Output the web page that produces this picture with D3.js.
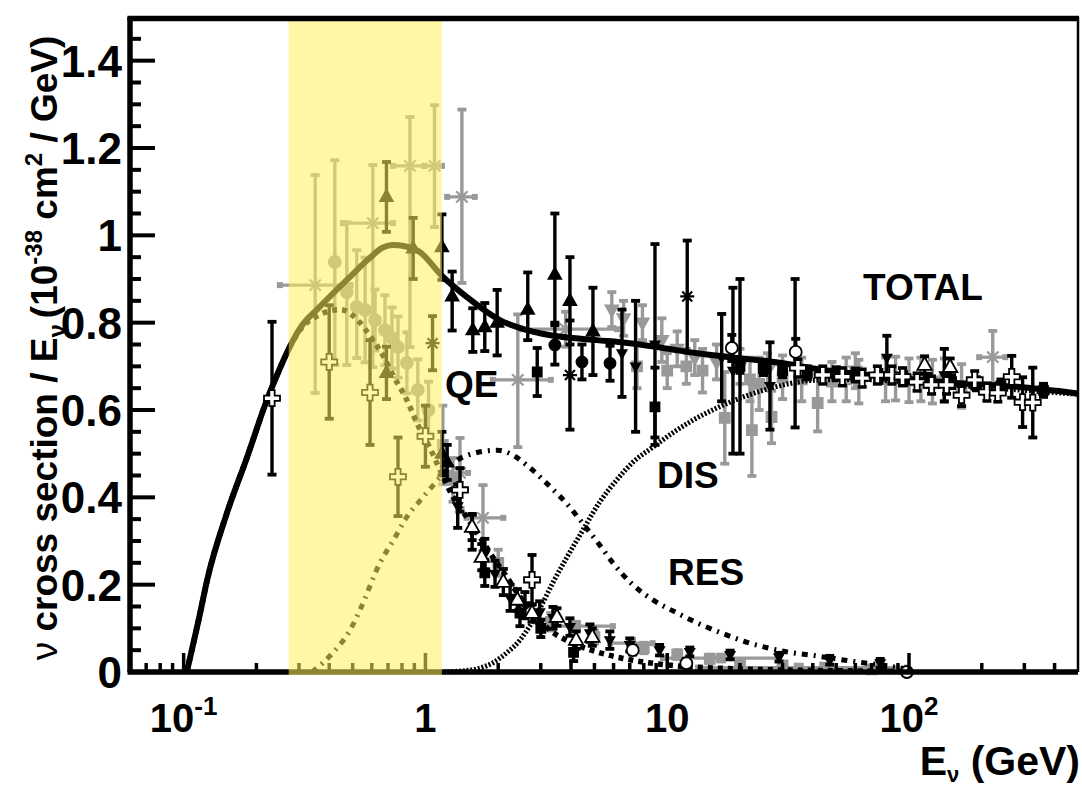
<!DOCTYPE html>
<html><head><meta charset="utf-8">
<script src="https://cdnjs.cloudflare.com/ajax/libs/d3/7.8.5/d3.min.js"></script>
<style>
body{margin:0;background:#fff;}
svg{display:block;}
text{font-family:"Liberation Sans",Arial,Helvetica,sans-serif;font-weight:bold;fill:#000;white-space:pre;}
</style>
</head><body>
<svg id="c" width="1082" height="788"></svg>
<script>
// ---------------- axis / tick definitions ----------------
const xMajorTicks = [0.1, 1, 10, 100];
const xMinorTicks = [0.07,0.08,0.09,0.2,0.3,0.4,0.5,0.6,0.7,0.8,0.9,2,3,4,5,6,7,8,9,20,30,40,50,60,70,80,90,200,300,400];
const xTickLabels = [["10","-1"],["1",""],["10",""],["10","2"]];
const yMajorTicks = [0,0.2,0.4,0.6,0.8,1.0,1.2,1.4];
const yMinorTicks = [0.05,0.1,0.15,0.25,0.3,0.35,0.45,0.5,0.55,0.65,0.7,0.75,0.85,0.9,0.95,1.05,1.1,1.15,1.25,1.3,1.35,1.45];
const yTickLabels = ["0","0.2","0.4","0.6","0.8","1","1.2","1.4"];
const bandRange = [0.272, 1.17];

// ---------------- model curves [E (GeV), sigma/E] ----------------
const totalCurve = [[0.103,0],[0.117,0.135],[0.125,0.21],[0.151,0.364],[0.183,0.492],[0.221,0.623],[0.25,0.695],[0.275,0.745],[0.31,0.795],[0.356,0.83],[0.42,0.87],[0.488,0.905],[0.58,0.945],[0.667,0.972],[0.734,0.978],[0.922,0.966],[1.18,0.905],[1.48,0.859],[2.03,0.806],[2.63,0.783],[3.71,0.767],[5.12,0.760],[7.01,0.753],[9.6,0.742],[13.3,0.730],[18.2,0.721],[29.2,0.708],[41.6,0.694],[78,0.677],[148,0.663],[279,0.653],[500,0.638]];
const qeCurve = [[0.103,0],[0.117,0.135],[0.125,0.21],[0.151,0.364],[0.183,0.492],[0.221,0.623],[0.25,0.695],[0.275,0.745],[0.31,0.79],[0.356,0.815],[0.444,0.83],[0.536,0.80],[0.589,0.77],[0.667,0.725],[0.734,0.68],[0.838,0.623],[0.922,0.57],[1.04,0.515],[1.148,0.463],[1.30,0.401],[1.48,0.355],[1.68,0.309],[1.90,0.263],[2.17,0.218],[2.46,0.172],[2.79,0.135],[3.27,0.096],[4.07,0.066],[5.27,0.044],[7.2,0.027],[10,0.016],[20,0.007],[50,0.003],[100,0.001]];
const resCurve = [[0.34,0],[0.414,0.044],[0.488,0.096],[0.536,0.142],[0.649,0.25],[0.734,0.30],[0.838,0.355],[0.976,0.40],[1.148,0.445],[1.3,0.478],[1.57,0.500],[1.98,0.508],[2.24,0.500],[2.7,0.468],[3.27,0.425],[3.85,0.385],[4.48,0.34],[5.27,0.29],[5.96,0.25],[7.2,0.20],[8.73,0.165],[11,0.135],[13.6,0.11],[17,0.088],[21.4,0.068],[26.6,0.054],[32,0.045],[40,0.038],[50,0.030],[63,0.022],[81,0.014],[100,0.006]];
const disCurve = [[1.15,0],[1.39,0.002],[1.68,0.009],[1.90,0.021],[2.17,0.044],[2.46,0.073],[2.70,0.105],[2.97,0.145],[3.37,0.205],[3.85,0.263],[4.48,0.325],[5.27,0.39],[6.19,0.44],[7.2,0.48],[8.73,0.515],[10.5,0.547],[12.8,0.577],[16.1,0.605],[21.4,0.633],[29,0.655],[40,0.668],[60,0.670],[100,0.664],[200,0.652],[500,0.636]];

// ---------------- data points [E, y, err] or [E, y, errLo, errHi, Elo, Ehi] ----------------
const blackTri = [[0.69,1.088,0.08],[0.69,0.685,0.06],[0.89,0.97,0.07],[1.17,0.973,0.075],[1.29,0.86,0.078,0.057],[1.57,0.783,0.05],[1.76,0.79,0.055],[1.98,0.80,0.075],[2.65,0.83,0.07,0.085],[3.43,0.91,0.11,0.14],[3.96,0.85,0.1],[4.93,0.78,0.1],[1.17,0.50,0.05],[1.23,0.48,0.04]];
const blackDown = [[6.5,0.73,0.1],[7.4,0.70,0.15],[8.9,0.75,0.23],[16.8,0.72,0.1],[18.7,0.69,0.19],[20,0.70,0.2],[26.6,0.655,0.1],[33.8,0.73,0.17],[81,0.72,0.05],[140,0.68,0.06],[1.36,0.38,0.05],[1.56,0.32,0.04],[1.76,0.27,0.035],[1.94,0.225,0.03],[2.24,0.17,0.03],[2.58,0.153,0.03],[2.97,0.137,0.025],[3.37,0.124,0.025],[3.96,0.103,0.02],[4.79,0.089,0.02],[5.79,0.073,0.02],[7.0,0.062,0.015],[9.3,0.05,0.012],[12.4,0.046,0.01],[18.2,0.039,0.01],[29,0.034,0.01],[47,0.027,0.01],[76,0.02,0.01]];
const blackSq = [[2.9,0.687,0.055],[8.9,0.607,0.07,0.09],[1.76,0.227,0.03],[2.46,0.135,0.03],[3.0,0.10,0.02],[4.1,0.045,0.02],[20,0.70,0.015],[25,0.695,0.015],[30,0.69,0.015],[38,0.685,0.015],[50,0.683,0.015],[60,0.68,0.015],[75,0.677,0.015],[95,0.672,0.015],[120,0.668,0.015],[150,0.665,0.015],[190,0.66,0.015],[240,0.655,0.015],[360,0.645,0.015]];
const blackCirc = [[3.43,0.749,0.045],[4.44,0.71,0.04],[5.8,0.707,0.04]];
const blackStar = [[1.07,0.753,0.062],[3.96,0.68,0.125],[12.1,0.86,0.128]];
const grayStarH = [[0.35,0.886,0.247,0.252,0.25,0.49],[0.606,1.028,0.33,0.133,0.456,0.734],[0.863,1.159,0.415,0.112,0.734,0.99],[1.09,1.159,0.14,0.139,0.99,1.17],[1.415,1.088,0.197,0.2,1.23,1.6],[2.41,0.669,0.154,0.15,1.9,3.3],[3.8,0.785,0.04,0.04,2.45,6.2],[1.39,0.456,0.08,0.08,1.25,1.5],[1.73,0.353,0.075,0.075,1.48,2.1],[222,0.721,0.06,0.06,195,250]];
const grayCirc = [[0.422,0.939,0.236,0.233],[0.473,0.87,0.167,0.16],[0.52,0.836,0.117,0.13],[0.563,0.829,0.12],[0.619,0.806,0.07],[0.68,0.783,0.08],[0.727,0.765,0.07],[0.77,0.744,0.07],[0.838,0.708,0.07],[0.93,0.646,0.07],[1.03,0.60,0.065]];
const graySq = [[17.3,0.582,0.105],[22.4,0.554,0.105],[27,0.584,0.06],[41.9,0.616,0.065],[22,0.67,0.05],[24,0.66,0.06],[30,0.675,0.05],[36,0.67,0.05],[48,0.665,0.045],[55,0.67,0.05],[62,0.665,0.05],[80,0.67,0.05],[88,0.672,0.05],[100,0.668,0.05],[112,0.67,0.05],[125,0.665,0.05],[140,0.668,0.05],[165,0.655,0.05],[7.5,0.70,0.05],[10,0.69,0.04],[12,0.70,0.04],[14,0.69,0.05],[1.18,0.52,0.09],[1.3,0.44,0.05],[2.0,0.25,0.03],[3.3,0.115,0.02],[5,0.08,0.015],[8,0.055,0.012],[11,0.04,0.01],[15,0.03,0.01],[20,0.02,0.008],[30,0.015,0.008],[45,0.01,0.006],[70,0.006,0.005]];
const grayDown = [[5.9,0.83,0.04],[6.6,0.81,0.04],[7.9,0.80,0.04],[9.5,0.76,0.05],[11,0.74,0.04],[13,0.72,0.04],[16,0.71,0.04],[20,0.70,0.04],[26,0.69,0.04],[60,0.69,0.04]];
const grayFallH = [[4.2,0.105,0.01,0.01,2.97,5.96],[7.1,0.066,0.01,0.01,5.8,8.7],[16.7,0.032,0.008,0.008,9.6,29],[35,0.01,0.006,0.006,13.4,98]];
const openCross = [[0.232,0.627,0.175],[0.40,0.71,0.13],[0.59,0.64,0.12],[0.77,0.447,0.09],[1.0,0.54,0.07],[1.39,0.417,0.05],[2.76,0.211,0.057],[34.7,0.696,0.02],[44,0.68,0.02],[53,0.676,0.02],[64,0.673,0.02],[74,0.68,0.02],[85,0.68,0.02],[94,0.676,0.02],[108,0.664,0.02],[124,0.657,0.02],[143,0.657,0.02],[165,0.634,0.025],[187,0.669,0.02],[210,0.641,0.02],[233,0.639,0.02],[266,0.676,0.048],[295,0.618,0.057],[325,0.617,0.08]];
const openTri = [[1.56,0.332,0.03],[1.71,0.263,0.03],[2.1,0.206,0.03],[2.4,0.165,0.025],[2.76,0.135,0.02],[3.5,0.126,0.02],[4.2,0.073,0.02],[4.9,0.08,0.02],[116,0.703,0.02],[148,0.698,0.02]];
const openCirc = [[18.5,0.742,0.03],[34,0.733,0.03],[7.2,0.05,0.01],[12,0.02,0.01],[98,0.0,0.005]];

// ---------------- setup ----------------
const svg = d3.select('#c');
const X0 = 130, X1 = 1078, YB = 672, YT = 17;
const x = d3.scaleLog().domain([0.06, 500]).range([X0, X1]);
const y = d3.scaleLinear().domain([0, 1.5]).range([YB, YT]);

const gGray = svg.append('g');
const gCurves = svg.append('g');
const gBlack = svg.append('g');
const gAxes = svg.append('g');
const gBand = svg.append('g');
const gFrame = svg.append('g');
const gText = svg.append('g');

function errBar(g, d, color) {
  const E = d[0], v = d[1];
  const lo = d[2], hi = d.length > 3 ? d[3] : d[2];
  const cx = x(E);
  const yt = y(v + hi), yb = y(Math.max(0, v - lo));
  g.append('line').attr('x1', cx).attr('x2', cx).attr('y1', yt).attr('y2', yb)
    .attr('stroke', color).attr('stroke-width', 3.4);
  [yt, yb].forEach(yy => g.append('line').attr('x1', cx - 4.5).attr('x2', cx + 4.5)
    .attr('y1', yy).attr('y2', yy).attr('stroke', color).attr('stroke-width', 3.8));
  if (d.length > 4) {
    const xl = x(d[4]), xr = x(d[5]), cy = y(v);
    g.append('line').attr('x1', xl).attr('x2', xr).attr('y1', cy).attr('y2', cy)
      .attr('stroke', color).attr('stroke-width', 3.2);
    [xl, xr].forEach(xx => g.append('rect').attr('x', xx - 3).attr('y', cy - 3)
      .attr('width', 6).attr('height', 6).attr('fill', color));
  }
}

function marker(g, type, cx, cy, fill, stroke, s) {
  let p;
  if (type === 'triUp') {
    p = `M${cx},${cy - s}L${cx + s * 0.9},${cy + s * 0.6}L${cx - s * 0.9},${cy + s * 0.6}Z`;
  } else if (type === 'triDown') {
    p = `M${cx},${cy + s}L${cx + s * 0.9},${cy - s * 0.6}L${cx - s * 0.9},${cy - s * 0.6}Z`;
  } else if (type === 'square') {
    p = `M${cx - s},${cy - s}h${2 * s}v${2 * s}h${-2 * s}Z`;
  } else if (type === 'cross') {
    const a = s * 0.33;
    p = `M${cx - a},${cy - s}h${2 * a}v${s - a}h${s - a}v${2 * a}h${-(s - a)}v${s - a}h${-2 * a}v${-(s - a)}h${-(s - a)}v${-2 * a}h${s - a}Z`;
  }
  if (type === 'circle') {
    g.append('circle').attr('cx', cx).attr('cy', cy).attr('r', s)
      .attr('fill', fill).attr('stroke', stroke).attr('stroke-width', 1.8);
  } else if (type === 'star') {
    const k = s * 0.71;
    const pp = `M${cx - s},${cy}h${2 * s}M${cx},${cy - s}v${2 * s}M${cx - k},${cy - k}l${2 * k},${2 * k}M${cx - k},${cy + k}l${2 * k},${-2 * k}`;
    g.append('path').attr('d', pp).attr('stroke', stroke).attr('stroke-width', 2.2).attr('fill', 'none');
  } else {
    g.append('path').attr('d', p).attr('fill', fill).attr('stroke', stroke).attr('stroke-width', 1.8);
  }
}

function series(g, data, type, color, fill, s) {
  data.forEach(d => errBar(g, d, color));
  data.forEach(d => marker(g, type, x(d[0]), y(d[1]), fill, color, s));
}

// gray data (under curves)
const GRAY = '#999999';
series(gGray, grayCirc, 'circle', GRAY, GRAY, 6);
series(gGray, grayStarH, 'star', GRAY, 'none', 8);
series(gGray, graySq, 'square', GRAY, GRAY, 5);
series(gGray, grayDown, 'triDown', GRAY, GRAY, 7);
series(gGray, grayFallH, 'square', GRAY, GRAY, 4);

// curves
function curve(data, dash, width) {
  const line = d3.line().x(d => x(d[0])).y(d => y(d[1])).curve(d3.curveMonotoneX);
  gCurves.append('path').attr('d', line(data)).attr('fill', 'none').attr('stroke', '#000')
    .attr('stroke-width', width).attr('stroke-dasharray', dash);
}
curve(disCurve, '2,1.8', 5);
curve(resCurve, '6,6,2,6', 5);
curve(qeCurve, '5,5', 5.5);
curve(totalCurve, null, 6);

// black / open data
series(gBlack, blackDown, 'triDown', '#000', '#000', 5);
series(gBlack, blackSq, 'square', '#000', '#000', 4.5);
series(gBlack, blackTri, 'triUp', '#000', '#000', 7);
series(gBlack, blackCirc, 'circle', '#000', '#000', 5.5);
series(gBlack, blackStar, 'star', '#000', 'none', 7);
series(gBlack, openTri, 'triUp', '#000', '#fff', 8);
series(gBlack, openCirc, 'circle', '#000', '#fff', 6);
series(gBlack, openCross, 'cross', '#000', '#fff', 8);

// ---------------- axes ----------------
yMajorTicks.forEach(v => gAxes.append('line').attr('x1', X0).attr('x2', X0 + 25)
  .attr('y1', y(v)).attr('y2', y(v)).attr('stroke', '#000').attr('stroke-width', 4));
yMinorTicks.forEach(v => gAxes.append('line').attr('x1', X0).attr('x2', X0 + 11)
  .attr('y1', y(v)).attr('y2', y(v)).attr('stroke', '#000').attr('stroke-width', 4));
xMajorTicks.forEach(v => gAxes.append('line').attr('x1', x(v)).attr('x2', x(v))
  .attr('y1', YB).attr('y2', YB - 19).attr('stroke', '#000').attr('stroke-width', 3.5));
xMinorTicks.forEach(v => gAxes.append('line').attr('x1', x(v)).attr('x2', x(v))
  .attr('y1', YB).attr('y2', YB - 9).attr('stroke', '#000').attr('stroke-width', 3.5));
gAxes.append('line').attr('x1', X0 - 2.5).attr('x2', X1).attr('y1', YB).attr('y2', YB)
  .attr('stroke', '#000').attr('stroke-width', 5.5);
gAxes.append('line').attr('x1', X0).attr('x2', X0).attr('y1', YT).attr('y2', YB)
  .attr('stroke', '#000').attr('stroke-width', 5.5);

// ---------------- band ----------------
gBand.append('rect').attr('x', x(bandRange[0])).attr('y', 21)
  .attr('width', x(bandRange[1]) - x(bandRange[0])).attr('height', YB + 3 - 21)
  .attr('fill', '#ffef5c').attr('fill-opacity', 0.55);

// frame top/right
gFrame.append('line').attr('x1', X0 - 2.5).attr('x2', X1 + 1).attr('y1', YT + 1.5).attr('y2', YT + 1.5)
  .attr('stroke', '#000').attr('stroke-width', 5.5);
gFrame.append('line').attr('x1', X1).attr('x2', X1).attr('y1', YT).attr('y2', YB)
  .attr('stroke', '#000').attr('stroke-width', 2.5);

// ---------------- texts ----------------
yMajorTicks.forEach((v, i) => gText.append('text').attr('x', 122).attr('y', y(v) + 16)
  .attr('text-anchor', 'end').attr('font-size', 44).text(yTickLabels[i]));

xMajorTicks.forEach((v, i) => {
  const t = gText.append('text').attr('x', x(v)).attr('y', 732)
    .attr('text-anchor', 'middle').attr('font-size', 40);
  t.append('tspan').text(xTickLabels[i][0]);
  if (xTickLabels[i][1]) t.append('tspan').attr('font-size', 26).attr('dy', -17).text(xTickLabels[i][1]);
});

// x axis title
{
  const t = gText.append('text').attr('x', 1080).attr('y', 775).attr('text-anchor', 'end').attr('font-size', 41);
  t.append('tspan').text('E');
  t.append('tspan').attr('font-size', 22).attr('dy', 7).text('ν');
  t.append('tspan').attr('dy', -7).text('\u00a0(GeV)');
}
// y axis title
{
  const t = gText.append('text').attr('transform', 'translate(57,348) rotate(-90)')
    .attr('text-anchor', 'middle').attr('font-size', 37);
  t.append('tspan').attr('font-weight', 'normal').text('ν');
  t.append('tspan').text('\u00a0cross section / E');
  t.append('tspan').attr('font-size', 24).attr('dy', 8).text('ν');
  t.append('tspan').attr('dy', -8).attr('dx', 6).text('(10');
  t.append('tspan').attr('font-size', 24).attr('dy', -15).text('-38');
  t.append('tspan').attr('dy', 15).text('\u00a0cm');
  t.append('tspan').attr('font-size', 24).attr('dy', -15).text('2');
  t.append('tspan').attr('dy', 15).text('\u00a0/ GeV)');
}
// curve labels
const curveLabels = [['TOTAL', 863, 300], ['QE', 445, 397], ['DIS', 657, 488], ['RES', 668, 585]];
curveLabels.forEach(([s, xx, yy]) => gText.append('text').attr('x', xx).attr('y', yy)
  .attr('font-size', 37).text(s));
</script>
</body></html>
